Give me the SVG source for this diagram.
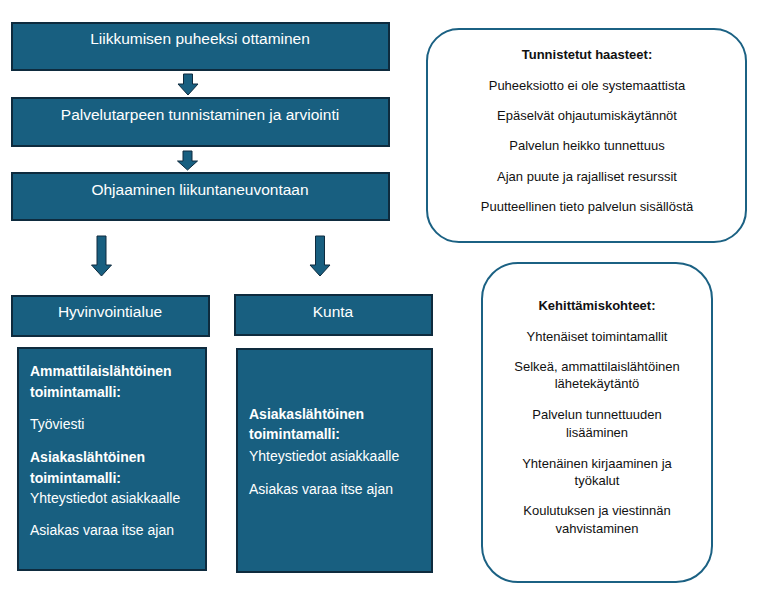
<svg xmlns="http://www.w3.org/2000/svg" width="760" height="602" viewBox="0 0 760 602">
<style>
.box{fill:#185f80;stroke:#0e2b3e;stroke-width:2}
.rbox{fill:#ffffff;stroke:#1b6183;stroke-width:2}
.arr{fill:#185f80;stroke:#0e2b3e;stroke-width:1}
.t{font-family:"Liberation Sans",Arial,sans-serif;fill:#ffffff}
.h{font-size:15.5px;text-anchor:middle}
.w{font-size:14px}
.b{font-weight:bold}
.d{font-family:"Liberation Sans",Arial,sans-serif;fill:#111111;font-size:13px;text-anchor:middle}
</style>
<rect width="760" height="602" fill="#ffffff"/>
<g id="connectors">
<path class="arr" d="M183.5,74 H192.5 V84 H198 L188,95 L178,84 H183.5 Z"/>
<path class="arr" d="M183,151 H192 V161 H197.5 L187.5,170 L177.5,161 H183 Z"/>
<path class="arr" d="M97,236 H106 V265 H111.5 L101.5,276 L91.5,265 H97 Z"/>
<path class="arr" d="M315.5,236 H324.5 V265 H330 L320,276 L310,265 H315.5 Z"/>
</g>
<g id="n1">
<rect class="box" x="12" y="23" width="377" height="47"/>
<text class="t h" x="200" y="44">Liikkumisen puheeksi ottaminen</text>
</g>
<g id="n2">
<rect class="box" x="12" y="98" width="377" height="48"/>
<text class="t h" x="200" y="120">Palvelutarpeen tunnistaminen ja arviointi</text>
</g>
<g id="n3">
<rect class="box" x="12" y="173" width="377" height="47"/>
<text class="t h" x="200" y="195">Ohjaaminen liikuntaneuvontaan</text>
</g>
<g id="n4">
<rect class="box" x="12" y="296" width="197" height="40"/>
<text class="t h" x="110" y="317">Hyvinvointialue</text>
</g>
<g id="n5">
<rect class="box" x="235" y="295" width="197" height="40"/>
<text class="t h" x="333" y="317">Kunta</text>
</g>
<g id="n6">
<rect class="box" x="18" y="348" width="188" height="222"/>
<text class="t w b" x="30" y="376">Ammattilaislähtöinen</text>
<text class="t w b" x="30" y="397">toimintamalli:</text>
<text class="t w" x="30" y="429">Työviesti</text>
<text class="t w b" x="30" y="462">Asiakaslähtöinen</text>
<text class="t w b" x="30" y="483">toimintamalli:</text>
<text class="t w" x="30" y="503">Yhteystiedot asiakkaalle</text>
<text class="t w" x="30" y="535">Asiakas varaa itse ajan</text>
</g>
<g id="n7">
<rect class="box" x="237" y="349" width="195" height="223"/>
<text class="t w b" x="249" y="419">Asiakaslähtöinen</text>
<text class="t w b" x="249" y="439">toimintamalli:</text>
<text class="t w" x="249" y="461">Yhteystiedot asiakkaalle</text>
<text class="t w" x="249" y="494">Asiakas varaa itse ajan</text>
</g>
<g id="n8">
<rect class="rbox" x="427" y="29" width="319" height="213" rx="32" ry="32"/>
<text class="d b" x="587" y="59">Tunnistetut haasteet:</text>
<text class="d" x="587" y="90">Puheeksiotto ei ole systemaattista</text>
<text class="d" x="587" y="120">Epäselvät ohjautumiskäytännöt</text>
<text class="d" x="587" y="150">Palvelun heikko tunnettuus</text>
<text class="d" x="587" y="181">Ajan puute ja rajalliset resurssit</text>
<text class="d" x="587" y="211">Puutteellinen tieto palvelun sisällöstä</text>
</g>
<g id="n9">
<rect class="rbox" x="482" y="263" width="230" height="319" rx="36" ry="36"/>
<text class="d b" x="597" y="310">Kehittämiskohteet:</text>
<text class="d" x="597" y="341">Yhtenäiset toimintamallit</text>
<text class="d" x="597" y="371">Selkeä, ammattilaislähtöinen</text>
<text class="d" x="597" y="388">lähetekäytäntö</text>
<text class="d" x="597" y="419">Palvelun tunnettuuden</text>
<text class="d" x="597" y="437">lisääminen</text>
<text class="d" x="597" y="468">Yhtenäinen kirjaaminen ja</text>
<text class="d" x="597" y="485">työkalut</text>
<text class="d" x="597" y="515">Koulutuksen ja viestinnän</text>
<text class="d" x="597" y="533">vahvistaminen</text>
</g>
</svg>
